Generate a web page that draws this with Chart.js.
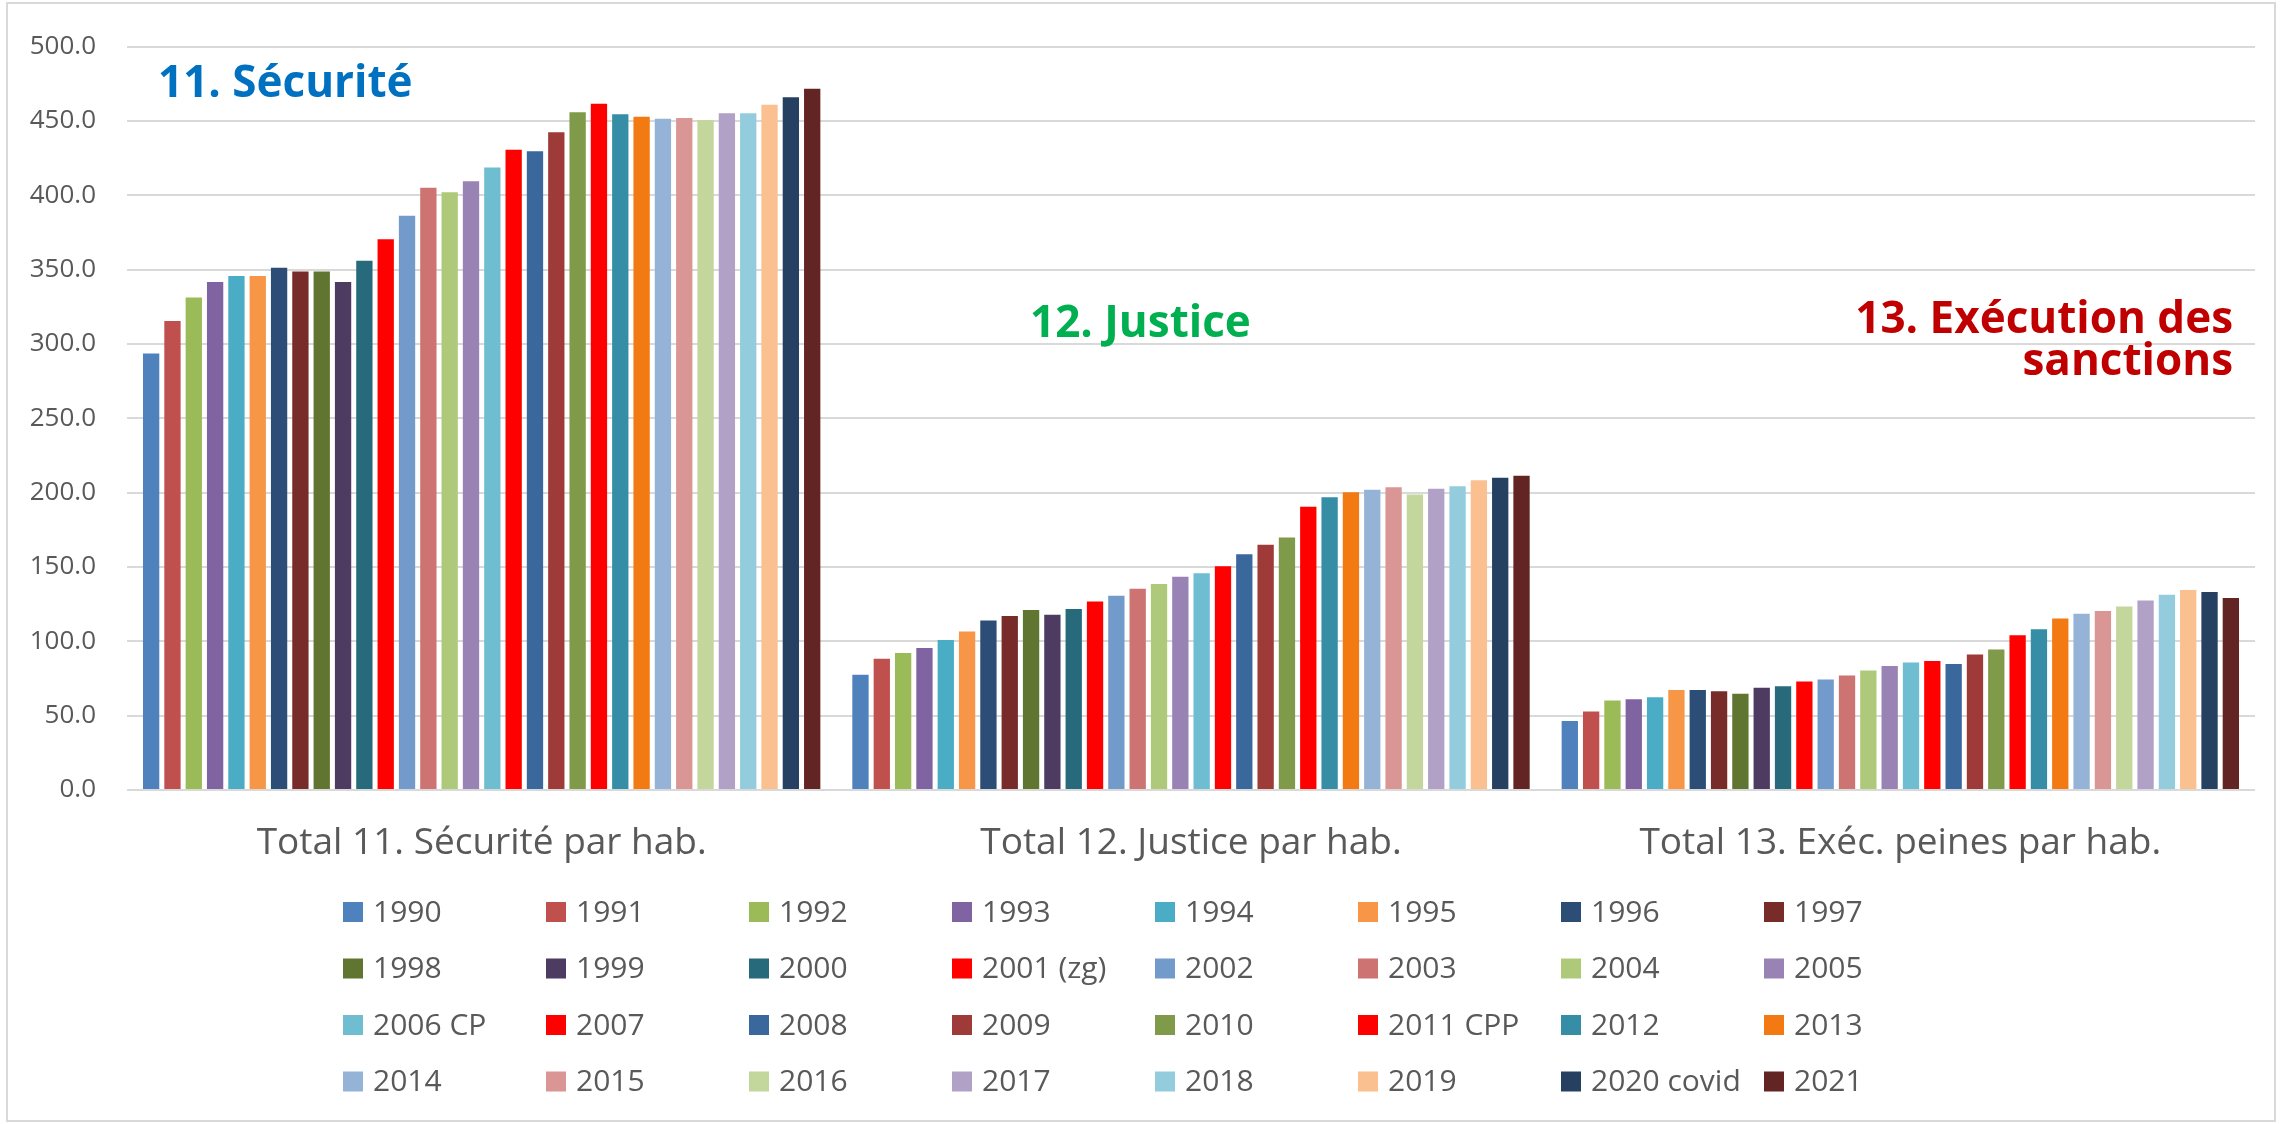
<!DOCTYPE html>
<html lang="fr">
<head>
<meta charset="utf-8">
<title>Dépenses par habitant</title>
<script src="https://cdn.jsdelivr.net/npm/chart.js@4.4.1/dist/chart.umd.min.js"></script>
<style>
  html, body { margin: 0; padding: 0; background: #fff; }
  #wrap { width: 2280px; height: 1124px; position: relative; }
</style>
</head>
<body>
<div id="wrap"><canvas id="chart" width="2280" height="1124"></canvas></div>
<script>
// catégories (axe x)
const categories = ['Total 11. Sécurité par hab.', 'Total 12. Justice par hab.', 'Total 13. Exéc. peines par hab.'];

// séries : une par année
const years = ['1990', '1991', '1992', '1993', '1994', '1995', '1996', '1997',
  '1998', '1999', '2000', '2001 (zg)', '2002', '2003', '2004', '2005',
  '2006 CP', '2007', '2008', '2009', '2010', '2011 CPP', '2012', '2013',
  '2014', '2015', '2016', '2017', '2018', '2019', '2020 covid', '2021'];

const securite = [293.6, 315.4, 331.3, 341.7, 345.7, 345.7, 351.2, 348.8,
  348.8, 341.7, 355.9, 370.4, 386.3, 405.0, 402.1, 409.5,
  418.7, 430.6, 429.6, 442.4, 455.9, 461.6, 454.5, 452.8,
  451.4, 451.9, 450.7, 455.2, 455.2, 460.9, 465.9, 471.6];

const justice = [77.5, 88.2, 92.2, 95.5, 100.9, 106.6, 114.0, 117.1,
  121.1, 117.8, 121.8, 126.8, 130.6, 135.3, 138.6, 143.4,
  145.7, 150.5, 158.5, 164.9, 169.9, 190.5, 196.9, 200.2,
  201.9, 203.6, 198.8, 202.6, 204.3, 208.3, 210.0, 211.4];

const execution = [46.4, 52.8, 60.2, 61.1, 62.3, 67.3, 67.3, 66.4,
  64.7, 68.7, 69.7, 73.0, 74.4, 77.0, 80.3, 83.4,
  85.8, 86.7, 84.8, 91.2, 94.5, 104.0, 108.1, 115.4,
  118.5, 120.4, 123.5, 127.5, 131.3, 134.6, 133.2, 129.1];

const colors = ['#4F81BD', '#C0504D', '#9BBB59', '#8064A2', '#4BACC6', '#F79646', '#2C4D75', '#772C2A',
  '#5F7530', '#4D3B62', '#276A7C', '#FF0000', '#729ACA', '#CD7371', '#AFC97A', '#9983B5',
  '#6FBDD1', '#FF0000', '#3A679C', '#9E3B38', '#7F9A48', '#FF0000', '#358EA6', '#F37A12',
  '#95B3D7', '#D99694', '#C3D69B', '#B2A1C7', '#93CDDD', '#FAC090', '#254061', '#632523'];

const yMax = 500;
const yStep = 50;

// titres des blocs (zones de texte)
const blockTitles = [
  { text: '11. Sécurité', color: '#0070C0', x: 158, y: 97, align: 'left' },
  { text: '12. Justice', color: '#00B050', x: 1030, y: 337, align: 'left' },
  { text: '13. Exécution des', color: '#C00000', x: 2233, y: 333, align: 'right' },
  { text: 'sanctions', color: '#C00000', x: 2233, y: 375, align: 'right' }
];

Chart.defaults.font.family = '"Open Sans", "Noto Sans", sans-serif';
Chart.defaults.color = '#595959';

const frame = {
  id: 'frame',
  beforeDraw(chart) {
    const ctx = chart.ctx;
    ctx.save();
    ctx.fillStyle = '#ffffff';
    ctx.fillRect(0, 0, chart.width, chart.height);
    ctx.strokeStyle = '#d9d9d9';
    ctx.lineWidth = 2;
    ctx.strokeRect(7, 3, 2268, 1118);
    ctx.restore();
  }
};

// légende en grille de 8 colonnes comme dans Excel
const gridLegend = {
  id: 'gridLegend',
  afterDraw(chart) {
    const ctx = chart.ctx;
    ctx.save();
    ctx.font = '30px "Open Sans", "Noto Sans", sans-serif';
    ctx.textBaseline = 'middle';
    ctx.textAlign = 'left';
    chart.data.datasets.forEach((ds, i) => {
      const col = i % 8;
      const row = Math.floor(i / 8);
      const x = 343 + col * 203;
      const y = 912 + row * 56.5;
      ctx.fillStyle = ds.backgroundColor;
      ctx.fillRect(x, y - 10, 20, 20);
      ctx.fillStyle = '#595959';
      ctx.fillText(ds.label, x + 30, y + 1);
    });
    ctx.restore();
  }
};

const titles = {
  id: 'blockTitles',
  afterDraw(chart) {
    const ctx = chart.ctx;
    ctx.save();
    ctx.font = 'bold 44px "Open Sans", "Noto Sans", sans-serif';
    ctx.textBaseline = 'alphabetic';
    blockTitles.forEach(t => {
      ctx.fillStyle = t.color;
      ctx.textAlign = t.align;
      ctx.fillText(t.text, t.x, t.y);
    });
    ctx.restore();
  }
};

const ctx = document.getElementById('chart').getContext('2d');

new Chart(ctx, {
  type: 'bar',
  data: {
    labels: categories,
    datasets: years.map((year, i) => ({
      label: year,
      data: [securite[i], justice[i], execution[i]],
      backgroundColor: colors[i],
      borderWidth: 0,
      categoryPercentage: 0.962,
      barPercentage: 0.765
    }))
  },
  options: {
    responsive: false,
    animation: false,
    devicePixelRatio: 1,
    layout: { padding: { left: 26, top: 34, right: 25, bottom: 259 } },
    plugins: {
      legend: { display: false },
      tooltip: { enabled: false }
    },
    scales: {
      x: {
        grid: { display: false, drawTicks: false },
        border: { display: false },
        ticks: { font: { size: 37 }, padding: 31, maxRotation: 0, color: '#595959' },
        afterFit: (scale) => { scale.height = 75; }
      },
      y: {
        min: 0,
        max: yMax,
        ticks: {
          stepSize: yStep,
          padding: 31,
          font: { size: 26 },
          color: '#595959',
          callback: (value) => value.toFixed(1)
        },
        grid: { color: '#d9d9d9', lineWidth: 2, drawTicks: false },
        border: { display: false },
        afterFit: (scale) => { scale.width = 101; }
      }
    }
  },
  plugins: [frame, gridLegend, titles]
});
</script>
</body>
</html>
